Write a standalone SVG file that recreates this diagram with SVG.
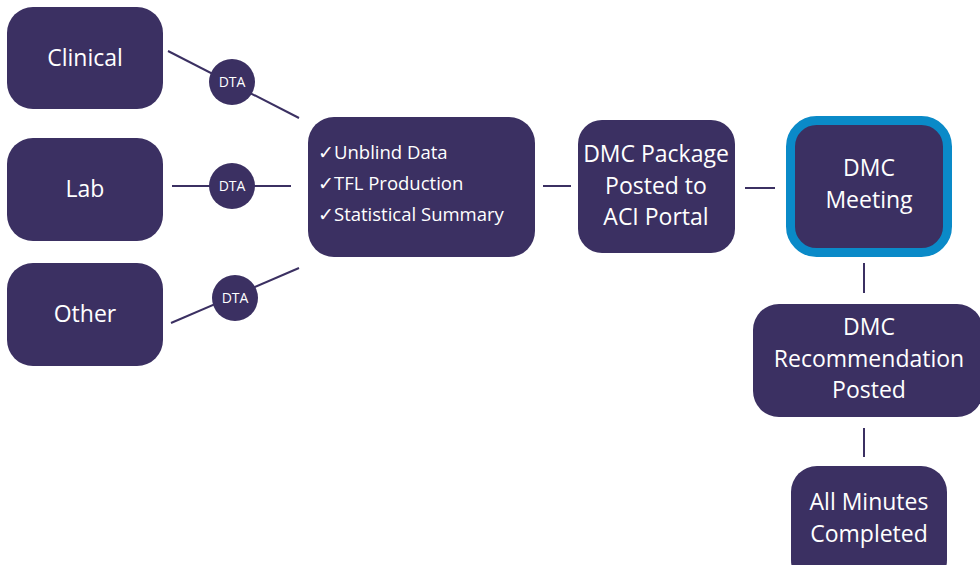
<svg xmlns="http://www.w3.org/2000/svg" width="980" height="565" viewBox="0 0 980 565">
<style>
.box{fill:#3b3062;}
.t{fill:#ffffff;font-family:"Open Sans","Liberation Sans",sans-serif;font-size:23px;text-anchor:middle;}
.tl{fill:#ffffff;font-family:"Open Sans","Liberation Sans",sans-serif;font-size:18.5px;}
.dta{fill:#ffffff;font-family:"Open Sans","Liberation Sans",sans-serif;font-size:14px;text-anchor:middle;}
.ln{stroke:#3b3062;stroke-width:2;fill:none;}
</style>
<rect width="980" height="565" fill="#ffffff"/>
<g id="connectors">
<line class="ln" x1="168" y1="51" x2="299" y2="118"/>
<line class="ln" x1="172" y1="186" x2="291" y2="186"/>
<line class="ln" x1="171" y1="323" x2="299" y2="268"/>
<line class="ln" x1="543" y1="186" x2="571" y2="186"/>
<line class="ln" x1="745" y1="188" x2="775" y2="188"/>
<line class="ln" x1="864" y1="263" x2="864" y2="293"/>
<line class="ln" x1="864" y1="428" x2="864" y2="457"/>
</g>
<g id="clinical"><rect class="box" x="7" y="7" width="156" height="102" rx="26"/><text class="t" x="85" y="66">Clinical</text></g>
<g id="lab"><rect class="box" x="7" y="138" width="156" height="103" rx="26"/><text class="t" x="85" y="197">Lab</text></g>
<g id="other"><rect class="box" x="7" y="263" width="156" height="103" rx="26"/><text class="t" x="85" y="322">Other</text></g>
<g id="dta1"><circle class="box" cx="232" cy="82" r="23"/><text class="dta" x="232" y="87">DTA</text></g>
<g id="dta2"><circle class="box" cx="232" cy="186" r="23"/><text class="dta" x="232" y="191">DTA</text></g>
<g id="dta3"><circle class="box" cx="235" cy="298" r="23"/><text class="dta" x="235" y="303">DTA</text></g>
<g id="process"><rect class="box" x="308" y="117" width="227" height="140" rx="26"/>
<text class="tl" x="318" y="159">✓Unblind Data</text>
<text class="tl" x="318" y="190">✓TFL Production</text>
<text class="tl" x="318" y="221">✓Statistical Summary</text></g>
<g id="package"><rect class="box" x="578" y="120" width="157" height="133" rx="24"/>
<text class="t" x="656" y="162">DMC Package</text>
<text class="t" x="656" y="194">Posted to</text>
<text class="t" x="656" y="225">ACI Portal</text></g>
<g id="meeting"><rect x="790.5" y="120.5" width="157" height="132" rx="26" fill="#3b3062" stroke="#0a8ac8" stroke-width="9"/>
<text class="t" x="869" y="176">DMC</text>
<text class="t" x="869" y="208">Meeting</text></g>
<g id="recommendation"><rect class="box" x="753" y="304" width="230" height="113" rx="26"/>
<text class="t" x="869" y="335">DMC</text>
<text class="t" x="869" y="367">Recommendation</text>
<text class="t" x="869" y="398">Posted</text></g>
<g id="minutes"><rect class="box" x="791" y="466" width="156" height="120" rx="26"/>
<text class="t" x="869" y="510">All Minutes</text>
<text class="t" x="869" y="542">Completed</text></g>
</svg>
